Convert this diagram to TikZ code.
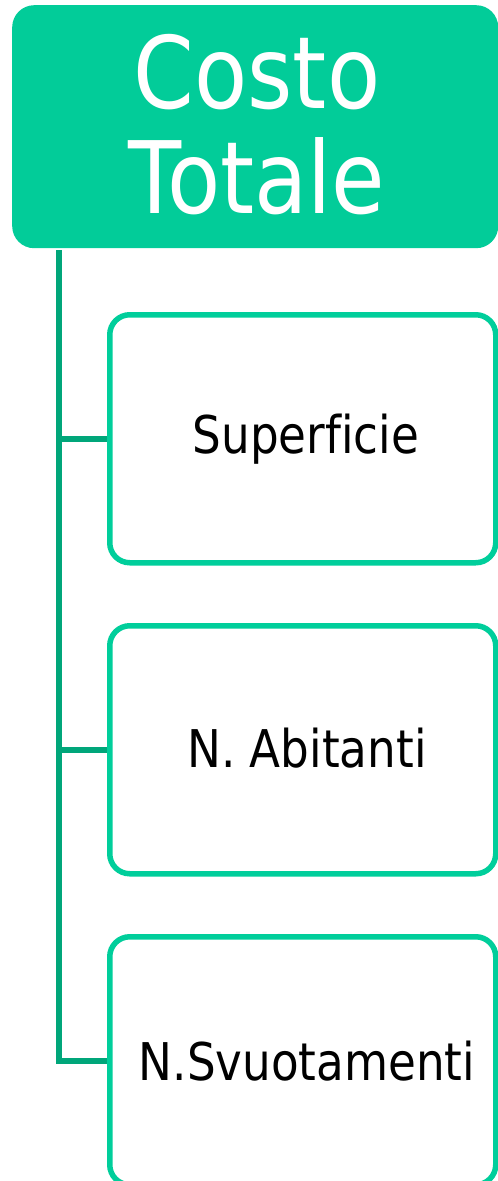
\documentclass[tikz,border=0pt]{standalone}
\usepackage{fontspec}
\setmainfont[FakeStretch=0.87,Ligatures=NoCommon]{DejaVu Sans}
\usetikzlibrary{backgrounds}
\definecolor{topfill}{RGB}{2,204,153}
\definecolor{trunkcol}{RGB}{0,166,122}
\definecolor{boxline}{RGB}{0,206,155}
\tikzset{
  rootbox/.style={fill=topfill, draw=none, rounded corners=22pt, minimum width=486pt, minimum height=243pt, inner sep=0pt, anchor=north west},
  roottxt/.style={text=white, font=\fontsize{100}{105}\selectfont, anchor=base, inner sep=0pt},
  childbox/.style={draw=boxline, fill=white, line width=5.5pt, rounded corners=20pt, minimum width=386pt, minimum height=248pt, inner sep=0pt, anchor=north west},
  childtxt/.style={text=black, font=\fontsize{52}{60}\selectfont, anchor=base, inner sep=0pt},
  conn/.style={draw=trunkcol, line width=5.5pt}
}
\begin{document}
\begin{tikzpicture}[x=1pt,y=-1pt]
\useasboundingbox (0,0) rectangle (498,1181);
\node[rootbox] (root) at (12,5) {};
\node[roottxt] (rt1) at (257,108) {Costo};
\node[roottxt] (rt2) at (257,213) {Totale};
\node[childbox] (c1) at (107,312) {};
\node[childbox] (c2) at (107,623) {};
\node[childbox] (c3) at (107,934) {};
\node[childtxt] (t1) at (306,453) {Superficie};
\node[childtxt] (t2) at (307,767) {N. Abitanti};
\node[childtxt] (t3) at (307,1080) {N.Svuotamenti};
\coordinate (trunk) at (59,250);
\begin{pgfonlayer}{background}
\draw[conn] (trunk) |- (c3.west);
\draw[conn] (trunk |- c1.west) -- (c1.west);
\draw[conn] (trunk |- c2.west) -- (c2.west);
\end{pgfonlayer}
\end{tikzpicture}
\end{document}
